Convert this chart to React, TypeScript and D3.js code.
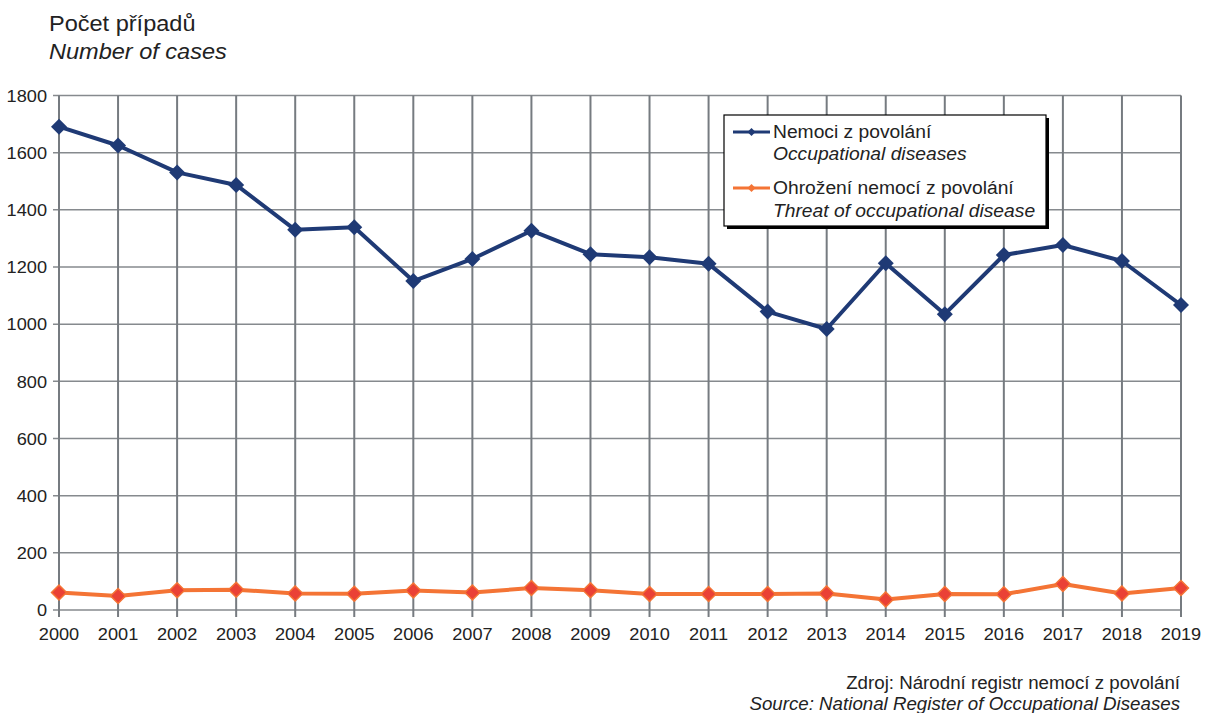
import React from "react";
import * as d3 from "d3";

const years = [2000, 2001, 2002, 2003, 2004, 2005, 2006, 2007, 2008, 2009, 2010, 2011, 2012, 2013, 2014, 2015, 2016, 2017, 2018, 2019];
const diseases = [1691, 1625, 1531, 1487, 1330, 1339, 1151, 1228, 1327, 1245, 1234, 1211, 1044, 983, 1213, 1035, 1242, 1277, 1221, 1067];
const threats = [61, 49, 69, 71, 58, 57, 68, 61, 77, 69, 56, 56, 56, 58, 37, 56, 55, 91, 58, 77];
const yTicks = [0, 200, 400, 600, 800, 1000, 1200, 1400, 1600, 1800];

const W = 1205, H = 713;
const left = 59, right = 1181, top = 95.5, bottom = 610;
const FONT = "'Liberation Sans', Arial, sans-serif";
const BLUE = "#1f3a75";
const ORANGE = "#f47435";
const RED = "#ea4136";
const SX = 1.07;

function T(props: { x: number; y: number; size: number; anchor?: string; italic?: boolean; children: React.ReactNode }) {
  return (
    <g transform={`translate(${props.x},${props.y}) scale(${SX},1)`}>
      <text x={0} y={0} textAnchor={props.anchor || "start"} fontSize={props.size} fill="#222"
        fontStyle={props.italic ? "italic" : "normal"}>{props.children}</text>
    </g>
  );
}

export default function App() {
  const x = d3.scaleLinear().domain([2000, 2019]).range([left, right]);
  const y = d3.scaleLinear().domain([0, 1800]).range([bottom, top]);
  const line = d3.line<number>().x((_, i) => x(years[i])).y((d) => y(d));
  const diamond = (cx: number, cy: number, r: number) =>
    `M${cx},${cy - r}L${cx + r},${cy}L${cx},${cy + r}L${cx - r},${cy}Z`;

  return (
    <svg width={W} height={H} style={{ position: "absolute", left: 0, top: 0, background: "#fff" }} fontFamily={FONT}>
      <rect x={0} y={0} width={W} height={H} fill="#fff" />
      {/* horizontal grid */}
      {yTicks.map((t) => (
        <g key={"h" + t}>
          <line x1={left - 6} x2={right} y1={y(t)} y2={y(t)} stroke="#868a8e" strokeWidth={1.5} />
          <T x={47} y={y(t) + 6.3} size={17} anchor="end">{t}</T>
        </g>
      ))}
      {/* vertical grid */}
      {years.map((yr) => (
        <g key={"v" + yr}>
          <line x1={x(yr)} x2={x(yr)} y1={top} y2={bottom + 7} stroke="#767b80" strokeWidth={2} />
          <T x={x(yr)} y={640} size={17} anchor="middle">{yr}</T>
        </g>
      ))}
      {/* series: diseases */}
      <path d={line(diseases) || ""} fill="none" stroke={BLUE} strokeWidth={4} strokeLinejoin="round" />
      {diseases.map((v, i) => (
        <path key={"d" + i} d={diamond(x(years[i]), y(v), 8)} fill={BLUE} />
      ))}
      {/* series: threats */}
      <path d={line(threats) || ""} fill="none" stroke={ORANGE} strokeWidth={4} strokeLinejoin="round" />
      {threats.map((v, i) => (
        <path key={"t" + i} d={diamond(x(years[i]), y(v), 7.5)} fill={RED} stroke={ORANGE} strokeWidth={1.5} />
      ))}
      {/* legend */}
      <rect x={727} y={118} width={322} height={111} fill="#000" />
      <rect x={724} y={115} width={322} height={111} fill="#fff" stroke="#000" strokeWidth={1.2} />
      <line x1={733} x2={770} y1={132} y2={132} stroke={BLUE} strokeWidth={3} />
      <path d={diamond(751.5, 132, 4)} fill={BLUE} />
      <T x={773} y={138} size={18}>Nemoci z povolání</T>
      <T x={773} y={160} size={18} italic>Occupational diseases</T>
      <line x1={733} x2={770} y1={188} y2={188} stroke={ORANGE} strokeWidth={3} />
      <path d={diamond(751.5, 188, 4)} fill={ORANGE} />
      <T x={773} y={194} size={18}>Ohrožení nemocí z povolání</T>
      <T x={773} y={217} size={18} italic>Threat of occupational disease</T>
      {/* title */}
      <T x={49} y={31} size={22}>Počet případů</T>
      <T x={49} y={59} size={22} italic>Number of cases</T>
      {/* source */}
      <T x={1180} y={689} size={17.5} anchor="end">Zdroj: Národní registr nemocí z povolání</T>
      <T x={1180} y={710} size={17.5} anchor="end" italic>Source: National Register of Occupational Diseases</T>
    </svg>
  );
}
